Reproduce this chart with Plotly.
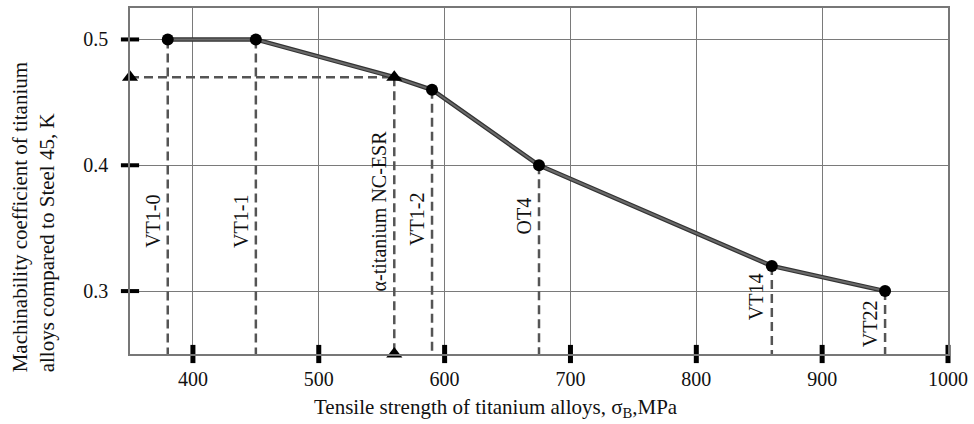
import plotly.graph_objects as go

# ---- data ----
alloys = ["VT1-0", "VT1-1", "α-titanium NC-ESR", "VT1-2", "OT4", "VT14", "VT22"]
strength = [380, 450, 560, 590, 675, 860, 950]
coef = [0.5, 0.5, 0.47, 0.46, 0.4, 0.32, 0.3]
x_ticks = [400, 500, 600, 700, 800, 900, 1000]
y_ticks = [0.3, 0.4, 0.5]
y_tick_text = ["0.3", "0.4", "0.5"]
highlight = "α-titanium NC-ESR"

# ---- layout constants ----
X_RANGE = [350, 1000]
Y_RANGE = [0.25, 0.525]
label_bottom = {"VT1-0": 0.333, "VT1-1": 0.333, "α-titanium NC-ESR": 0.298,
                "VT1-2": 0.334, "OT4": 0.343, "VT14": 0.2755, "VT22": 0.2535}
FONT = "Liberation Serif, Times New Roman, serif"
DASH_COL = "#555555"

fig = go.Figure()

# dashed drop lines
for name, xv, yv in zip(alloys, strength, coef):
    fig.add_trace(go.Scatter(x=[xv, xv], y=[yv, Y_RANGE[0]], mode="lines",
                             line=dict(color=DASH_COL, width=2.5, dash="9px,5px"),
                             hoverinfo="skip", showlegend=False, cliponaxis=False))
    if name == highlight:
        fig.add_trace(go.Scatter(x=[X_RANGE[0], xv], y=[yv, yv], mode="lines",
                                 line=dict(color=DASH_COL, width=2.5, dash="9px,5px"),
                                 hoverinfo="skip", showlegend=False, cliponaxis=False))
        fig.add_trace(go.Scatter(x=[X_RANGE[0], xv], y=[yv, Y_RANGE[0]], mode="markers",
                                 marker=dict(symbol="triangle-up", size=14, color="black",
                                             line=dict(width=0)),
                                 hoverinfo="skip", showlegend=False, cliponaxis=False))

# main curve
fig.add_trace(go.Scatter(x=strength, y=coef, mode="lines",
                         line=dict(color="#333333", width=4.5),
                         showlegend=False, hoverinfo="skip"))
fig.add_trace(go.Scatter(x=strength, y=coef, mode="lines",
                         line=dict(color="#6a6a6a", width=2),
                         showlegend=False, hoverinfo="skip"))
fig.add_trace(go.Scatter(x=strength, y=coef, mode="markers",
                         marker=dict(symbol=["triangle-up" if a == highlight else "circle" for a in alloys],
                                     size=[14 if a == highlight else 12 for a in alloys],
                                     color="black", opacity=1, line=dict(width=0)),
                         hoverinfo="skip", showlegend=False, cliponaxis=False))

# custom crossing tick marks
fig.add_trace(go.Scatter(x=x_ticks, y=[Y_RANGE[0]] * len(x_ticks), mode="markers",
                         marker=dict(symbol="line-ns", size=13, line=dict(color="black", width=5)),
                         hoverinfo="skip", showlegend=False, cliponaxis=False))
fig.add_trace(go.Scatter(x=[X_RANGE[0]] * len(y_ticks), y=y_ticks, mode="markers",
                         marker=dict(symbol="line-ew", size=13, line=dict(color="black", width=4)),
                         hoverinfo="skip", showlegend=False, cliponaxis=False))

# rotated labels
for name, xv in zip(alloys, strength):
    fig.add_annotation(x=xv, y=label_bottom[name], text=name, textangle=-90,
                       xanchor="right", yanchor="bottom", xshift=-2, showarrow=False,
                       font=dict(family=FONT, size=20, color="#111111"))

# axis titles
fig.add_annotation(xref="paper", yref="paper", x=0.447, y=-0.155,
                   text="Tensile strength of titanium alloys, σ<sub>B</sub>,MPa",
                   showarrow=False, xanchor="center", yanchor="middle",
                   font=dict(family=FONT, size=21, color="#111111"))
fig.add_annotation(xref="paper", yref="paper", x=-0.1515, y=-0.06,
                   text="Machinability coefficient of titanium<br>alloys compared to Steel 45, K",
                   textangle=-90, align="left", showarrow=False,
                   xanchor="left", yanchor="bottom",
                   font=dict(family=FONT, size=21, color="#111111"))

fig.update_layout(
    width=974, height=424,
    margin=dict(l=130, r=21, t=6, b=70),
    paper_bgcolor="white", plot_bgcolor="white",
    hovermode=False,
    font=dict(family=FONT, size=20, color="#111111"),
    xaxis=dict(range=X_RANGE, tickvals=x_ticks, ticks="", showgrid=True,
               gridcolor="#7a7a7a", gridwidth=1, zeroline=False,
               showline=True, linecolor="#777777", linewidth=1.5, mirror=True,
               ticklabelstandoff=6, tickfont=dict(size=20)),
    yaxis=dict(range=Y_RANGE, tickvals=y_ticks, ticktext=y_tick_text, ticks="",
               showgrid=True, gridcolor="#7a7a7a", gridwidth=1, zeroline=False,
               showline=True, linecolor="#777777", linewidth=1.5, mirror=True,
               ticklabelstandoff=16, tickfont=dict(size=20)),
)

fig.write_html("out.html", config={"displayModeBar": False},
               post_script="document.body.style.margin='0';")
